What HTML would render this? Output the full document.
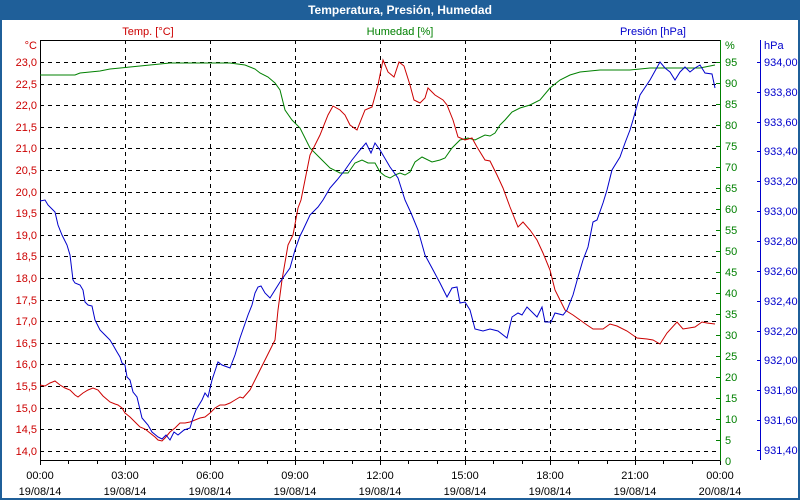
<!DOCTYPE html>
<html><head><meta charset="utf-8"><style>
html,body{margin:0;padding:0;background:#fff}
svg{display:block}
text{font-family:"Liberation Sans","DejaVu Sans",sans-serif;font-size:11px}
</style></head><body>
<svg width="800" height="500" xmlns="http://www.w3.org/2000/svg">
<rect x="0" y="0" width="800" height="500" fill="#fff"/>
<rect x="0" y="0" width="800" height="20" fill="#1f5f99"/>
<rect x="0" y="0" width="2" height="500" fill="#1f5f99"/>
<rect x="798" y="0" width="2" height="500" fill="#1f5f99"/>
<rect x="0" y="498" width="800" height="2" fill="#1f5f99"/>
<text x="400" y="14" text-anchor="middle" fill="#fff" font-weight="bold" style="font-size:12px">Temperatura, Presión, Humedad</text>

<g stroke="#000" stroke-dasharray="4,4" stroke-width="1">
<line x1="40" x2="720" y1="62.5" y2="62.5"/><line x1="40" x2="720" y1="84.5" y2="84.5"/><line x1="40" x2="720" y1="105.5" y2="105.5"/><line x1="40" x2="720" y1="127.5" y2="127.5"/><line x1="40" x2="720" y1="148.5" y2="148.5"/><line x1="40" x2="720" y1="170.5" y2="170.5"/><line x1="40" x2="720" y1="192.5" y2="192.5"/><line x1="40" x2="720" y1="213.5" y2="213.5"/><line x1="40" x2="720" y1="235.5" y2="235.5"/><line x1="40" x2="720" y1="256.5" y2="256.5"/><line x1="40" x2="720" y1="278.5" y2="278.5"/><line x1="40" x2="720" y1="300.5" y2="300.5"/><line x1="40" x2="720" y1="321.5" y2="321.5"/><line x1="40" x2="720" y1="343.5" y2="343.5"/><line x1="40" x2="720" y1="364.5" y2="364.5"/><line x1="40" x2="720" y1="386.5" y2="386.5"/><line x1="40" x2="720" y1="408.5" y2="408.5"/><line x1="40" x2="720" y1="429.5" y2="429.5"/><line x1="40" x2="720" y1="451.5" y2="451.5"/>
<line y1="40" y2="460" x1="125.5" x2="125.5"/><line y1="40" y2="460" x1="210.5" x2="210.5"/><line y1="40" y2="460" x1="295.5" x2="295.5"/><line y1="40" y2="460" x1="380.5" x2="380.5"/><line y1="40" y2="460" x1="465.5" x2="465.5"/><line y1="40" y2="460" x1="550.5" x2="550.5"/><line y1="40" y2="460" x1="635.5" x2="635.5"/>
</g>
<g stroke="#000" fill="none">
<line x1="40.5" y1="40" x2="40.5" y2="461"/>
<line x1="40" y1="40.5" x2="720" y2="40.5"/>
<line x1="40" y1="460.5" x2="720" y2="460.5"/>
</g>
<g stroke="#000">
<line x1="40.5" x2="40.5" y1="460" y2="465"/><line x1="68.5" x2="68.5" y1="460" y2="464"/><line x1="97.5" x2="97.5" y1="460" y2="464"/><line x1="125.5" x2="125.5" y1="460" y2="465"/><line x1="153.5" x2="153.5" y1="460" y2="464"/><line x1="182.5" x2="182.5" y1="460" y2="464"/><line x1="210.5" x2="210.5" y1="460" y2="465"/><line x1="238.5" x2="238.5" y1="460" y2="464"/><line x1="267.5" x2="267.5" y1="460" y2="464"/><line x1="295.5" x2="295.5" y1="460" y2="465"/><line x1="323.5" x2="323.5" y1="460" y2="464"/><line x1="352.5" x2="352.5" y1="460" y2="464"/><line x1="380.5" x2="380.5" y1="460" y2="465"/><line x1="408.5" x2="408.5" y1="460" y2="464"/><line x1="437.5" x2="437.5" y1="460" y2="464"/><line x1="465.5" x2="465.5" y1="460" y2="465"/><line x1="493.5" x2="493.5" y1="460" y2="464"/><line x1="522.5" x2="522.5" y1="460" y2="464"/><line x1="550.5" x2="550.5" y1="460" y2="465"/><line x1="578.5" x2="578.5" y1="460" y2="464"/><line x1="607.5" x2="607.5" y1="460" y2="464"/><line x1="635.5" x2="635.5" y1="460" y2="465"/><line x1="663.5" x2="663.5" y1="460" y2="464"/><line x1="692.5" x2="692.5" y1="460" y2="464"/><line x1="720.5" x2="720.5" y1="460" y2="465"/>
</g>
<line x1="720.5" y1="40" x2="720.5" y2="461" stroke="#008000"/>
<line x1="760.5" y1="40" x2="760.5" y2="460" stroke="#0000cc"/>

<g fill="#cc0000" text-anchor="end">
<text x="37" y="49">°C</text>
<text x="37" y="66">23,0</text><text x="37" y="88">22,5</text><text x="37" y="109">22,0</text><text x="37" y="131">21,5</text><text x="37" y="152">21,0</text><text x="37" y="174">20,5</text><text x="37" y="196">20,0</text><text x="37" y="217">19,5</text><text x="37" y="239">19,0</text><text x="37" y="260">18,5</text><text x="37" y="282">18,0</text><text x="37" y="304">17,5</text><text x="37" y="325">17,0</text><text x="37" y="347">16,5</text><text x="37" y="368">16,0</text><text x="37" y="390">15,5</text><text x="37" y="412">15,0</text><text x="37" y="433">14,5</text><text x="37" y="455">14,0</text>
</g>
<text x="148" y="35" text-anchor="middle" fill="#cc0000">Temp. [°C]</text>
<text x="400" y="35" text-anchor="middle" fill="#008000">Humedad [%]</text>
<text x="686" y="35" text-anchor="end" fill="#0000cc">Presión [hPa]</text>

<g fill="#008000">
<text x="725" y="49">%</text>
<text x="725" y="66">95</text><text x="725" y="87">90</text><text x="725" y="108">85</text><text x="725" y="129">80</text><text x="725" y="150">75</text><text x="725" y="171">70</text><text x="725" y="192">65</text><text x="725" y="213">60</text><text x="725" y="234">55</text><text x="725" y="255">50</text><text x="725" y="276">45</text><text x="725" y="297">40</text><text x="725" y="318">35</text><text x="725" y="339">30</text><text x="725" y="360">25</text><text x="725" y="381">20</text><text x="725" y="402">15</text><text x="725" y="423">10</text><text x="725" y="444">5</text><text x="725" y="465">0</text>
</g>
<g stroke="#008000"><line x1="716" x2="720" y1="62.5" y2="62.5"/><line x1="716" x2="720" y1="83.5" y2="83.5"/><line x1="716" x2="720" y1="104.5" y2="104.5"/><line x1="716" x2="720" y1="125.5" y2="125.5"/><line x1="716" x2="720" y1="146.5" y2="146.5"/><line x1="716" x2="720" y1="167.5" y2="167.5"/><line x1="716" x2="720" y1="188.5" y2="188.5"/><line x1="716" x2="720" y1="209.5" y2="209.5"/><line x1="716" x2="720" y1="230.5" y2="230.5"/><line x1="716" x2="720" y1="251.5" y2="251.5"/><line x1="716" x2="720" y1="272.5" y2="272.5"/><line x1="716" x2="720" y1="293.5" y2="293.5"/><line x1="716" x2="720" y1="314.5" y2="314.5"/><line x1="716" x2="720" y1="335.5" y2="335.5"/><line x1="716" x2="720" y1="356.5" y2="356.5"/><line x1="716" x2="720" y1="377.5" y2="377.5"/><line x1="716" x2="720" y1="398.5" y2="398.5"/><line x1="716" x2="720" y1="419.5" y2="419.5"/><line x1="716" x2="720" y1="440.5" y2="440.5"/></g>

<g fill="#0000cc">
<text x="764" y="49">hPa</text>
<text x="764" y="66">934,00</text><text x="764" y="96">933,80</text><text x="764" y="126">933,60</text><text x="764" y="155">933,40</text><text x="764" y="185">933,20</text><text x="764" y="215">933,00</text><text x="764" y="245">932,80</text><text x="764" y="275">932,60</text><text x="764" y="305">932,40</text><text x="764" y="335">932,20</text><text x="764" y="364">932,00</text><text x="764" y="394">931,80</text><text x="764" y="424">931,60</text><text x="764" y="454">931,40</text>
</g>
<g stroke="#0000cc"><line x1="757" x2="760" y1="62.5" y2="62.5"/><line x1="757" x2="760" y1="92.5" y2="92.5"/><line x1="757" x2="760" y1="122.5" y2="122.5"/><line x1="757" x2="760" y1="151.5" y2="151.5"/><line x1="757" x2="760" y1="181.5" y2="181.5"/><line x1="757" x2="760" y1="211.5" y2="211.5"/><line x1="757" x2="760" y1="241.5" y2="241.5"/><line x1="757" x2="760" y1="271.5" y2="271.5"/><line x1="757" x2="760" y1="301.5" y2="301.5"/><line x1="757" x2="760" y1="331.5" y2="331.5"/><line x1="757" x2="760" y1="360.5" y2="360.5"/><line x1="757" x2="760" y1="390.5" y2="390.5"/><line x1="757" x2="760" y1="420.5" y2="420.5"/><line x1="757" x2="760" y1="450.5" y2="450.5"/></g>

<g fill="#000" text-anchor="middle">
<text x="40" y="479">00:00</text><text x="40" y="495">19/08/14</text>
<text x="125" y="479">03:00</text><text x="125" y="495">19/08/14</text>
<text x="210" y="479">06:00</text><text x="210" y="495">19/08/14</text>
<text x="295" y="479">09:00</text><text x="295" y="495">19/08/14</text>
<text x="380" y="479">12:00</text><text x="380" y="495">19/08/14</text>
<text x="465" y="479">15:00</text><text x="465" y="495">19/08/14</text>
<text x="550" y="479">18:00</text><text x="550" y="495">19/08/14</text>
<text x="635" y="479">21:00</text><text x="635" y="495">19/08/14</text>
<text x="720" y="479">00:00</text><text x="720" y="495">20/08/14</text>
</g>

<polyline fill="none" stroke="#008000" stroke-width="1" points="40,75 75,75 80,73 100,71 110,69 130,67 150,65 170,63 230,63 245,65 255,69 260,73 268,77 275,83 280,90 285,110 292,120 300,128 310,148 320,158 330,168 340,173 348,173 355,163 362,160 368,163 375,163 380,172 385,176 390,178 395,175 400,173 405,175 410,172 415,162 422,157 432,162 440,160 445,158 452,148 460,140 468,138 475,140 485,135 490,136 495,133 500,125 505,120 512,112 520,108 530,105 540,100 550,88 560,80 570,75 580,72 600,70 630,70 650,68 680,68 700,68 715,65"/>

<polyline fill="none" stroke="#cc0000" stroke-width="1" points="40,385 45,386 50,383 55,381 60,385 65,388 70,390 75,395 78,397 83,393 88,390 93,388 98,390 103,396 110,402 115,404 118,405 122,408 125,413 130,417 135,422 140,427 145,429 150,433 155,437 158,440 162,441 165,438 170,432 175,428 180,423 185,423 190,422 195,420 200,418 205,417 210,413 215,408 220,405 225,405 230,403 235,400 240,397 243,398 250,390 255,380 260,370 265,360 270,350 275,340 278,310 282,280 288,245 293,235 298,208 301,200 310,155 320,135 328,115 333,106 340,110 345,115 350,125 357,130 365,110 372,107 378,85 383,60 388,72 394,77 399,62 404,66 410,85 414,100 420,103 425,98 428,88 435,95 443,100 447,105 453,120 458,137 465,140 472,138 477,147 485,160 490,161 497,175 503,188 510,207 518,227 523,222 530,230 537,240 543,253 550,270 555,290 565,310 573,315 580,320 587,325 593,329 603,329 610,324 617,326 627,331 637,338 647,339 653,340 660,344 667,333 677,322 683,329 695,327 702,322 707,323 715,324"/>

<polyline fill="none" stroke="#0000cc" stroke-width="1" points="40,201 45,200 48,205 53,210 55,212 58,225 62,235 67,245 70,255 73,280 75,283 80,285 83,290 85,302 88,305 92,306 95,320 100,330 105,335 110,340 113,345 117,352 120,357 122,363 125,365 127,377 130,380 133,392 137,397 142,418 148,425 152,432 158,437 162,439 166,435 170,440 174,432 178,435 184,430 190,428 193,418 196,410 202,400 205,393 208,397 212,380 218,362 222,365 230,368 235,355 240,338 248,315 252,305 255,293 258,287 261,286 265,293 270,298 275,290 280,282 285,275 290,268 295,250 300,236 303,230 310,215 318,207 323,200 330,188 337,180 345,170 352,160 356,155 360,150 366,143 371,153 375,143 380,150 390,167 398,178 405,200 411,213 418,230 425,255 432,268 440,283 447,297 452,288 457,287 460,303 465,302 470,310 475,329 483,331 490,329 498,331 507,338 512,317 518,313 522,315 527,307 537,317 542,307 545,322 551,322 555,313 563,315 567,310 573,295 578,277 583,260 588,247 593,222 597,220 603,203 607,190 612,170 620,157 625,143 630,130 633,120 640,95 650,80 660,62 665,68 670,72 675,80 680,72 685,67 690,72 695,68 700,65 705,73 712,74 715,88"/>
</svg>
</body></html>
